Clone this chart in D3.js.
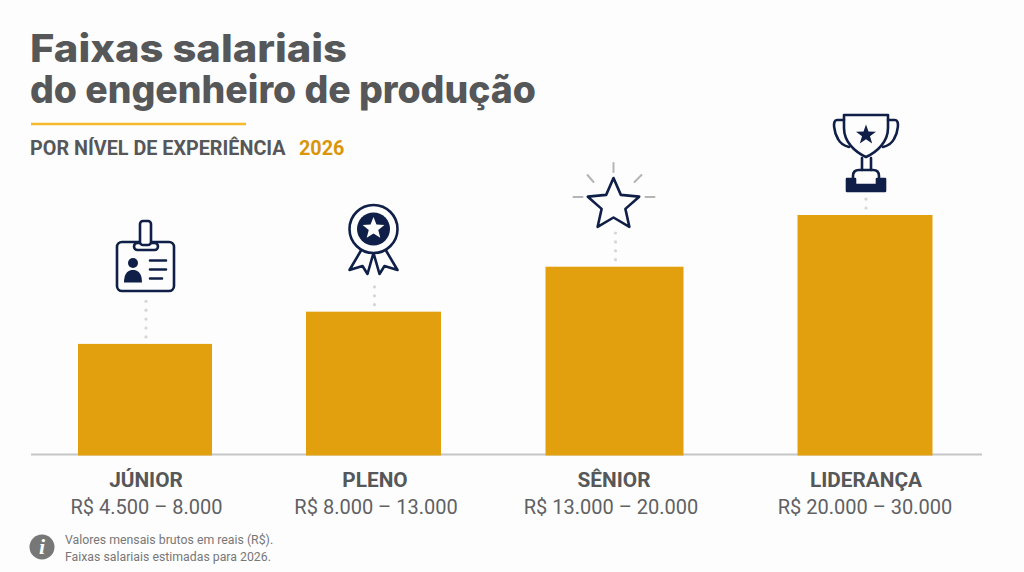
<!DOCTYPE html>
<html>
<head>
<meta charset="utf-8">
<script src="https://cdn.jsdelivr.net/npm/d3@7/dist/d3.min.js"></script>
<style>
html, body { margin: 0; padding: 0; background: #fdfdfd; }
svg { display: block; }
text { font-family: Roboto, sans-serif; }
</style>
</head>
<body>
<script>
const categories = ["JÚNIOR", "PLENO", "SÊNIOR", "LIDERANÇA"];
const rangeLabels = ["R$ 4.500 – 8.000", "R$ 8.000 – 13.000", "R$ 13.000 – 20.000", "R$ 20.000 – 30.000"];
// bar height as % of the tallest bar (no value axis in the picture)
const barValues = [46.4, 59.8, 78.5, 100];
const dotCounts = [5, 3, 4, 2];
const titleLines = ["Faixas salariais", "do engenheiro de produção"];
const noteLines = ["Valores mensais brutos em reais (R$).", "Faixas salariais estimadas para 2026."];

const width = 1024, height = 572;
const navy = "#0f1f47", gold = "#e2a00f", grey = "#555759";

const svg = d3.select("body").append("svg").attr("width", width).attr("height", height);
svg.append("rect").attr("width", width).attr("height", height).attr("fill", "#fdfdfd");

// bars are not evenly spaced in the original, so the scales are ordinal
const xScale = d3.scaleOrdinal().domain(categories).range([145, 373.5, 614.5, 865]);
const widthScale = d3.scaleOrdinal().domain(categories).range([134, 135, 138, 135]);
const labelX = d3.scaleOrdinal().domain(categories).range([146, 375, 614, 866]);
const rangeX = d3.scaleOrdinal().domain(rangeLabels).range([146.5, 376, 611, 865]);
const yScale = d3.scaleLinear().domain([0, 100]).range([455.5, 215]);

// header
svg.selectAll(".title").data(titleLines).enter().append("text")
	.attr("class", "title")
	.attr("x", 30)
	.attr("y", (d, i) => i === 0 ? 62 : 103)
	.attr("textLength", (d, i) => i === 0 ? 317 : 506)
	.attr("lengthAdjust", "spacingAndGlyphs")
	.attr("fill", grey)
	.style("font-family", "Inter, sans-serif")
	.style("font-weight", 800)
	.style("font-size", "38px")
	.text(d => d);

svg.append("line").attr("x1", 31).attr("x2", 246).attr("y1", 124).attr("y2", 124)
	.attr("stroke", "#f6b92b").attr("stroke-width", 2.5);

svg.append("text").attr("x", 30).attr("y", 155).attr("fill", grey)
	.style("font-weight", 700).style("font-size", "19.8px")
	.text("POR NÍVEL DE EXPERIÊNCIA");
svg.append("text").attr("x", 299).attr("y", 155).attr("fill", "#d9960b")
	.style("font-weight", 700).style("font-size", "19.8px")
	.text("2026");

// baseline, the bars sit over it
svg.append("line").attr("x1", 31).attr("x2", 982).attr("y1", 454.5).attr("y2", 454.5)
	.attr("stroke", "#c6c6c6").attr("stroke-width", 2);

// bars
svg.selectAll(".bar").data(categories).enter().append("rect")
	.attr("class", "bar")
	.attr("x", d => xScale(d) - widthScale(d) / 2)
	.attr("y", (d, i) => yScale(barValues[i]))
	.attr("width", d => widthScale(d))
	.attr("height", (d, i) => yScale(0) - yScale(barValues[i]))
	.attr("fill", gold);

// dotted connectors, counted up from just above each bar
categories.forEach((c, i) => {
	svg.append("g").selectAll("circle").data(d3.range(dotCounts[i])).enter().append("circle")
		.attr("cx", xScale(c) + 1)
		.attr("cy", d => yScale(barValues[i]) - 7 - d * 8.9)
		.attr("r", 1.6)
		.attr("fill", "#d6d6d6");
});

// labels
svg.selectAll(".cat").data(categories).enter().append("text")
	.attr("class", "cat")
	.attr("x", d => labelX(d)).attr("y", 487).attr("text-anchor", "middle")
	.attr("fill", grey)
	.style("font-weight", 700).style("font-size", "20.8px")
	.text(d => d);
svg.selectAll(".range").data(rangeLabels).enter().append("text")
	.attr("class", "range")
	.attr("x", d => rangeX(d)).attr("y", 514).attr("text-anchor", "middle")
	.attr("fill", "#5f6163")
	.style("font-size", "20px")
	.text(d => d);

// footnote
svg.append("circle").attr("cx", 42).attr("cy", 547).attr("r", 12.5).attr("fill", "#777");
svg.append("text").attr("x", 42).attr("y", 554).attr("text-anchor", "middle").attr("fill", "#fdfdfd")
	.style("font-family", "'Liberation Serif', serif").style("font-style", "italic")
	.style("font-weight", 700).style("font-size", "22px").text("i");
svg.selectAll(".note").data(noteLines).enter().append("text")
	.attr("class", "note")
	.attr("x", 65).attr("y", (d, i) => i === 0 ? 544 : 561)
	.attr("fill", "#777")
	.style("font-size", "12.3px")
	.text(d => d);

function starPath(cx, cy, R, r) {
	const pts = d3.range(10).map(i => {
		const a = -Math.PI / 2 + i * Math.PI / 5, rad = i % 2 ? r : R;
		return [cx + rad * Math.cos(a), cy + rad * Math.sin(a)];
	});
	return d3.line()(pts) + "Z";
}

// icons, each drawn in its own group centred on the bar
function iconGroup(cat) {
	return svg.append("g").attr("transform", `translate(${xScale(cat)},0)`)
		.attr("fill", "none").attr("stroke", navy).attr("stroke-width", 2.6)
		.attr("stroke-linejoin", "round").attr("stroke-linecap", "round");
}

// badge
let g = iconGroup("JÚNIOR");
g.append("rect").attr("x", -28).attr("y", 242).attr("width", 57).attr("height", 49).attr("rx", 5);
g.append("rect").attr("x", -11).attr("y", 243).attr("width", 24).attr("height", 7).attr("rx", 3.5).attr("fill", "#fdfdfd");
g.append("rect").attr("x", -5).attr("y", 221).attr("width", 11).attr("height", 24).attr("rx", 3).attr("fill", "#fdfdfd");
g.append("circle").attr("cx", -12).attr("cy", 263).attr("r", 5).attr("fill", navy).attr("stroke", "none");
g.append("path").attr("d", "M-21,282.5 C-21,272 -16,270 -12,270 C-8,270 -3,272 -3,282.5 Z").attr("fill", navy).attr("stroke", "none");
g.append("path").attr("d", "M5,260.5H21M5,269.5H21M5,278.5H17");

// medal
g = iconGroup("PLENO");
g.append("path").attr("d", "M-11,248 L-24,270 L-11,266 L-6,274 L0,253 L6,274 L11,266 L24,270 L11,248");
g.append("circle").attr("cy", 229).attr("r", 24).attr("fill", "#fdfdfd");
g.append("circle").attr("cy", 229).attr("r", 16.5).attr("fill", navy).attr("stroke", "none");
g.append("path").attr("d", starPath(0, 228.5, 11.5, 5)).attr("fill", "#fdfdfd").attr("stroke", "none");

// star with rays
g = iconGroup("SÊNIOR");
g.append("path").attr("d", "M-1,163V172M-27,175L-21,182M27,175L20,182M-41,197H-32M31,197H40").attr("stroke", "#b5b5b5").attr("stroke-width", 2);
g.append("path").attr("d", starPath(-1, 205, 27, 12.5)).attr("fill", "#fdfdfd");

// trophy
g = iconGroup("LIDERANÇA");
g.append("path").attr("d", "M-21,115H23V128C23,142 12,152 1,157C-10,152 -21,142 -21,128Z");
g.append("path").attr("d", "M-21,120H-28C-33,120 -31,132 -27,139C-25,143 -20,146 -16,147");
g.append("path").attr("d", "M23,120H30C35,120 33,132 29,139C27,143 22,146 18,147");
g.append("path").attr("d", starPath(1, 135, 10.5, 4.2)).attr("fill", navy).attr("stroke", "none");
g.append("path").attr("d", "M-3,158V170M6,158V170");
g.append("path").attr("d", "M-12,180V176C-12,172 -10,170 -6,170H8C12,170 14,172 14,176V180");
g.append("path").attr("d", "M-18,179H-10V185H12V179H20V191H-18Z").attr("fill", navy);
</script>
</body>
</html>
